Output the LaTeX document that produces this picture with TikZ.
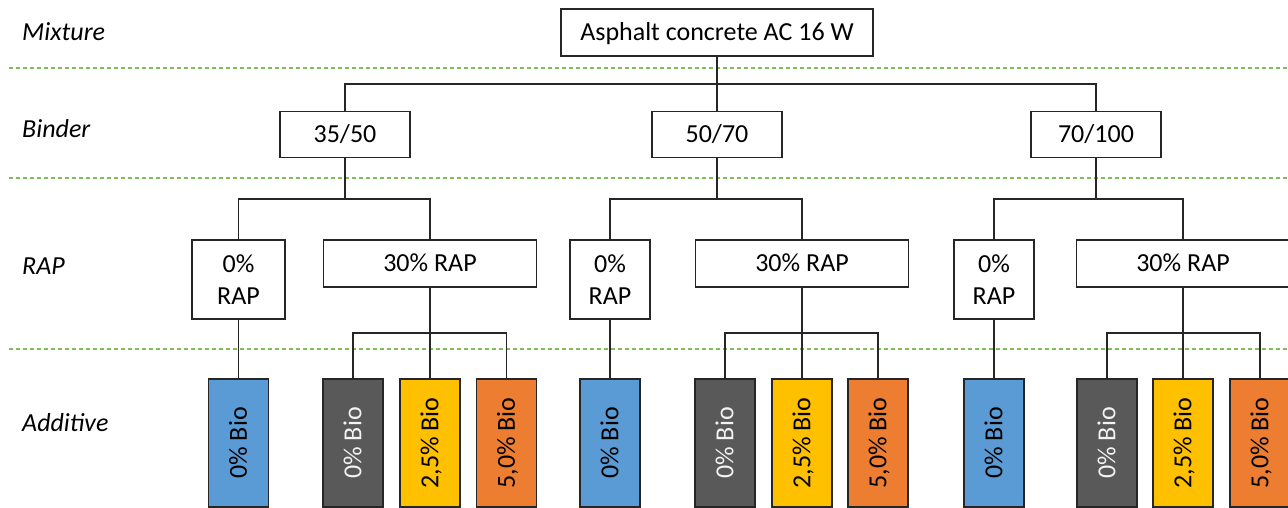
\documentclass[tikz,border=0pt]{standalone}
\usepackage{fontspec}
\setmainfont{Carlito}
\usepackage{graphicx}
\definecolor{sepgreen}{RGB}{125,190,95}
\definecolor{bioblue}{RGB}{91,155,213}
\definecolor{biodark}{RGB}{89,89,89}
\definecolor{bioyellow}{RGB}{255,192,0}
\definecolor{bioorange}{RGB}{237,125,49}
\definecolor{edge}{RGB}{38,38,38}
\definecolor{lighttext}{RGB}{242,242,242}

% vertical label, cap height only so it sits centred in its box
\newcommand{\upword}[1]{\rotatebox{90}{\raisebox{0pt}[16.7pt][0pt]{#1}}}

\begin{document}
\begin{tikzpicture}[x=1pt,y=-1pt,
  every node/.style={font=\fontsize{26}{32}\selectfont, inner sep=0pt},
  box/.style={draw=edge, line width=1.3pt, fill=white},
  oneline/.style={text height=16.7pt, text depth=0pt},
  biobox/.style={draw=edge, line width=1.3pt, minimum width=60pt, minimum height=128pt},
  link/.style={draw=black!85, line width=1.2pt},
  sep/.style={draw=sepgreen, line width=1.1pt, dash pattern=on 4pt off 3pt},
  level/.style={font=\fontsize{26}{32}\selectfont\itshape, anchor=base west}]
\useasboundingbox (0,0) rectangle (1288,508);

% level separators
\draw[sep] (9,68) -- (1288,68);
\draw[sep] (9,178) -- (1288,178);
\draw[sep] (9,349) -- (1288,349);

% level labels
\node[level] (lmix) at (22,41) {Mixture};
\node[level] (lbin) at (22,138) {Binder};
\node[level] (lrap) at (22,274) {RAP};
\node[level] (ladd) at (22,431) {Additive};

% mixture
\node[box, oneline, minimum width=312pt, minimum height=47pt] (mix) at (717,32.5) {Asphalt concrete AC 16 W};
\coordinate (tj) at (717,84);

% one branch per binder grade
\foreach \i/\bx/\lab/\rz/\rw/\rt/\dx/\yx/\ox in {
    1/345/35\slash 50/238.5/93/430/353/430/506.5,
    2/717/50\slash 70/610/80/802/725/802/878,
    3/1096/70\slash 100/994/80/1183/1107/1183/1260}{
  \node[box, oneline, minimum width=130pt, minimum height=46pt] (b\i) at (\bx,134.5) {\lab};
  \node[box, align=center, minimum width=\rw pt, minimum height=79pt] (r0\i) at (\rz,279.5) {0\%\\RAP};
  \node[box, oneline, minimum width=213pt, minimum height=47pt] (r3\i) at (\rt,263.5) {30\% RAP};
  \node[biobox, fill=bioblue] (bl\i) at (\rz,443) {\upword{0\% Bio}};
  \node[biobox, fill=biodark, text=lighttext] (dk\i) at (\dx,443) {\upword{0\% Bio}};
  \node[biobox, fill=bioyellow] (ye\i) at (\yx,443) {\upword{2,5\% Bio}};
  \node[biobox, fill=bioorange] (or\i) at (\ox,443) {\upword{5,0\% Bio}};
  \coordinate (gj\i) at (\bx,199);
  \coordinate (bj\i) at (\yx,333);
  \draw[link] (b\i.south) -- (gj\i);
  \draw[link] (r0\i.north) |- (gj\i) -| (r3\i.north);
  \draw[link] (r0\i.south) -- (bl\i.north);
  \draw[link] (r3\i.south) -- (ye\i.north);
  \draw[link] (dk\i.north) |- (bj\i) -| (or\i.north);
}

% mixture to binders
\draw[link] (mix.south) -- (b2.north);
\draw[link] (b1.north) |- (tj) -| (b3.north);
\end{tikzpicture}
\end{document}
